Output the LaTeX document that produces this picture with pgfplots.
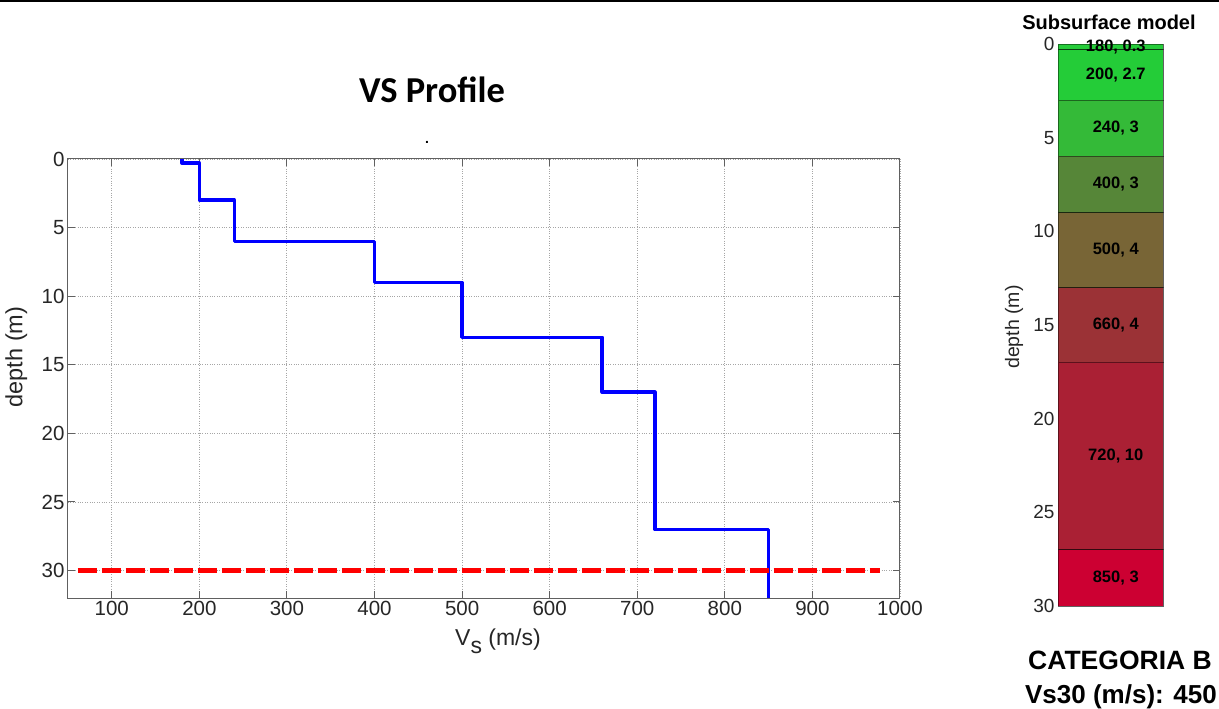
\documentclass[border=0pt]{standalone}
\usepackage{pgfplots}
\pgfplotsset{compat=1.18}
\usepackage{fontspec}
\setmainfont{Liberation Sans}
\newfontfamily\carlito{Carlito}
\definecolor{cA}{RGB}{38,204,58}
\definecolor{cB}{RGB}{36,204,56}
\definecolor{cC}{RGB}{52,186,56}
\definecolor{cD}{RGB}{86,134,56}
\definecolor{cE}{RGB}{120,101,54}
\definecolor{cF}{RGB}{155,50,54}
\definecolor{cG}{RGB}{170,32,52}
\definecolor{cH}{RGB}{204,0,50}
\begin{document}
\begin{tikzpicture}
\useasboundingbox (0pt,0pt) rectangle (1219pt,709pt);
\draw[black, line width=2pt] (0pt,708pt) -- (1219pt,708pt);
\node[font=\carlito\bfseries\fontsize{36.5}{40}\selectfont] at (432pt,619pt) {VS Profile};
\node[font=\bfseries\fontsize{14}{16}\selectfont] at (427pt,567pt) {.};
\begin{axis}[
  at={(68pt,111pt)}, anchor=south west,
  width=832pt, height=439pt, scale only axis,
  xmin=50, xmax=1000, ymin=0, ymax=32, y dir=reverse,
  xtick={100,200,...,1000}, ytick={0,5,...,30},
  grid=major, grid style={dotted, gray!70, line width=0.9pt},
  axis line style={gray!75!black, line width=1pt},
  tick style={gray!75!black, line width=1pt},
  major tick length=7pt, tick align=inside,
  /pgf/number format/assume math mode=true,
  /pgf/number format/set thousands separator={},
  ticklabel style={font=\fontsize{20.5}{23}\selectfont, text=black!85},
  xlabel={V\raisebox{-8pt}{s} (m/s)}, ylabel={depth (m)},
  xlabel style={font=\fontsize{23}{25}\selectfont, text=black!85, at={(axis description cs:0.5,0)}, anchor=north, yshift=-27pt, xshift=14pt},
  ylabel style={font=\fontsize{23.5}{25}\selectfont, text=black!85, at={(axis description cs:-0.062,0.549)}, anchor=center},
]
\addplot[blue, line width=3.5pt, line join=round] coordinates {
 (180,0) (180,0.3) (200,0.3) (200,3) (240,3) (240,6) (400,6) (400,9)
 (500,9) (500,13) (660,13) (660,17) (720,17) (720,27) (850,27) (850,32)};
\addplot[red, line width=5pt, dash pattern=on 19pt off 5pt] coordinates {(61,30) (977,30)};
\end{axis}

\node[font=\bfseries\fontsize{20}{22}\selectfont] at (1109pt,687pt) {Subsurface model};
\begin{axis}[
  at={(1058pt,103pt)}, anchor=south west,
  width=105pt, height=562pt, scale only axis,
  xmin=0, xmax=1, ymin=0, ymax=30, y dir=reverse,
  xtick=\empty, ytick={0,5,...,30}, major tick length=0pt,
  axis line style={gray!60, line width=0.8pt},
  /pgf/number format/assume math mode=true,
  ticklabel style={font=\fontsize{19}{21}\selectfont, text=black!85},
  clip=false,
]
\addplot[fill=cA, draw=black, draw opacity=0.45, line width=0.8pt] coordinates {(0,0) (1,0) (1,0.3) (0,0.3)} -- cycle;
\addplot[fill=cB, draw=black, draw opacity=0.45, line width=0.8pt] coordinates {(0,0.3) (1,0.3) (1,3) (0,3)} -- cycle;
\addplot[fill=cC, draw=black, draw opacity=0.45, line width=0.8pt] coordinates {(0,3) (1,3) (1,6) (0,6)} -- cycle;
\addplot[fill=cD, draw=black, draw opacity=0.45, line width=0.8pt] coordinates {(0,6) (1,6) (1,9) (0,9)} -- cycle;
\addplot[fill=cE, draw=black, draw opacity=0.45, line width=0.8pt] coordinates {(0,9) (1,9) (1,13) (0,13)} -- cycle;
\addplot[fill=cF, draw=black, draw opacity=0.45, line width=0.8pt] coordinates {(0,13) (1,13) (1,17) (0,17)} -- cycle;
\addplot[fill=cG, draw=black, draw opacity=0.45, line width=0.8pt] coordinates {(0,17) (1,17) (1,27) (0,27)} -- cycle;
\addplot[fill=cH, draw=black, draw opacity=0.45, line width=0.8pt] coordinates {(0,27) (1,27) (1,30) (0,30)} -- cycle;
\begin{scope}[every node/.style={font=\bfseries\fontsize{16.5}{18}\selectfont}]
\node at (axis cs:0.55,0.17) {180, 0.3};
\node at (axis cs:0.55,1.65) {200, 2.7};
\node at (axis cs:0.55,4.5) {240, 3};
\node at (axis cs:0.55,7.5) {400, 3};
\node at (axis cs:0.55,11) {500, 4};
\node at (axis cs:0.55,15) {660, 4};
\node at (axis cs:0.55,22) {720, 10};
\node at (axis cs:0.55,28.5) {850, 3};
\end{scope}
\end{axis}
\node[rotate=90, font=\fontsize{19.5}{21}\selectfont, text=black!85] at (1014pt,382pt) {depth (m)};
\node[font=\bfseries\fontsize{26.5}{28}\selectfont] at (1120pt,49pt) {CATEGORIA B};
\node[font=\bfseries\fontsize{26}{28}\selectfont] at (1121pt,12pt) {Vs30 (m/s): 450};
\end{tikzpicture}
\end{document}
